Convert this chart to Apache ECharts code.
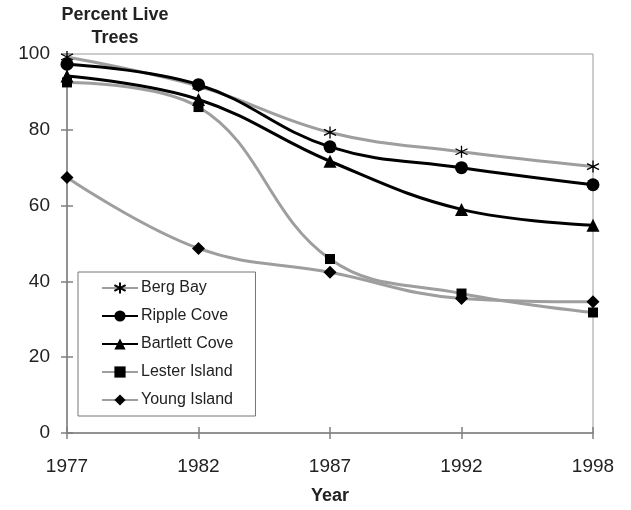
<!DOCTYPE html>
<html><head><meta charset="utf-8">
<script src="https://cdn.jsdelivr.net/npm/echarts@6/dist/echarts.min.js"></script>
<style>html,body{margin:0;padding:0;background:#fff}#c{width:631px;height:510px}</style>
</head><body><div id="c"></div>
<script>
const years = ['1977','1982','1987','1992','1998'];
const bergBay = [99.2, 91.5, 79.3, 74.2, 70.3];
const rippleCove = [97.3, 91.9, 75.5, 70.0, 65.5];
const bartlettCove = [94.2, 88.0, 71.7, 59.0, 54.8];
const lesterIsland = [92.5, 86.0, 45.9, 36.8, 31.8];
const youngIsland = [67.4, 48.7, 42.4, 35.5, 34.6];
const yTicks = [0, 20, 40, 60, 80, 100];

const GRAY = '#9e9e9e', BLACK = '#000';
const FONT = 'Liberation Sans, Arial, sans-serif';
const starPath = 'path://M0,-6L0,6M-5.2,-3L5.2,3M-5.2,3L5.2,-3';

function mk(name, data, lineColor, symbol, size, extra) {
  return Object.assign({
    name, type: 'line', data, smooth: 0.4,
    symbol, symbolSize: size, showSymbol: true,
    lineStyle: {color: lineColor, width: 3},
    itemStyle: {color: BLACK},
    emphasis: {disabled: true}
  }, extra || {});
}

const chart = echarts.init(document.getElementById('c'));
chart.setOption({
  animation: false,
  textStyle: {fontFamily: FONT},
  grid: {left: 67, right: 38, top: 54, bottom: 77, show: true, borderColor: '#9a9a9a', borderWidth: 1},
  xAxis: [{
    type: 'category', data: years, boundaryGap: false,
    axisLine: {lineStyle: {color: '#808080', width: 1.5}},
    axisTick: {show: true, length: 6, lineStyle: {color: '#808080', width: 1.5}},
    axisLabel: {color: '#222', fontSize: 19, margin: 24, fontFamily: FONT},
    splitLine: {show: false}
  }, {
    type: 'category', data: years, boundaryGap: false, position: 'bottom',
    axisLine: {show: false},
    axisTick: {show: true, inside: true, length: 6, lineStyle: {color: '#808080', width: 1.5}},
    axisLabel: {show: false}, splitLine: {show: false}
  }],
  yAxis: [{
    type: 'value', min: 0, max: 100, interval: 20,
    axisLine: {show: true, lineStyle: {color: '#808080', width: 1.5}},
    axisTick: {show: true, length: 6, lineStyle: {color: '#808080', width: 1.5}},
    axisLabel: {color: '#222', fontSize: 19, margin: 17, fontFamily: FONT,
      formatter: v => yTicks.includes(v) ? String(v) : ''},
    splitLine: {show: false}
  }, {
    type: 'value', min: 0, max: 100, interval: 20, position: 'left',
    axisLine: {show: false},
    axisTick: {show: true, inside: true, length: 6, lineStyle: {color: '#808080', width: 1.5}},
    axisLabel: {show: false}, splitLine: {show: false}
  }],
  legend: {
    orient: 'vertical', left: 78, top: 272,
    padding: [8, 22, 8, 23], itemGap: 12, itemWidth: 36, itemHeight: 14,
    borderColor: '#777', borderWidth: 1, backgroundColor: '#fff',
    textStyle: {fontSize: 16, color: '#222', fontFamily: FONT, padding: [0, 0, 0, -2]},
    data: ['Berg Bay', 'Ripple Cove', 'Bartlett Cove', 'Lester Island', 'Young Island']
  },
  graphic: [
    {type: 'text', x: 115, y: 4, style: {text: 'Percent Live\nTrees', textAlign: 'center', font: 'bold 18px ' + FONT, lineHeight: 23, fill: '#222'}},
    {type: 'text', x: 330, y: 487, style: {text: 'Year', textAlign: 'center', font: 'bold 18px ' + FONT, fill: '#222'}}
  ],
  series: [
    mk('Young Island', youngIsland, GRAY, 'diamond', 13),
    mk('Lester Island', lesterIsland, GRAY, 'rect', 10),
    mk('Berg Bay', bergBay, GRAY, starPath, 12, {itemStyle: {color: BLACK, borderColor: BLACK, borderWidth: 1.3}}),
    mk('Bartlett Cove', bartlettCove, BLACK, 'triangle', 13),
    mk('Ripple Cove', rippleCove, BLACK, 'circle', 13)
  ]
});
</script></body></html>
